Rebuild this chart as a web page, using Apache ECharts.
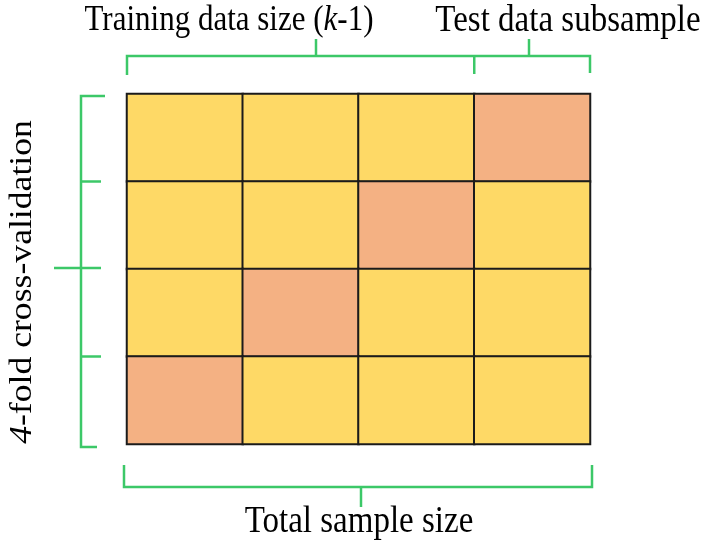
<!DOCTYPE html>
<html>
<head>
<meta charset="utf-8">
<script src="https://cdn.jsdelivr.net/npm/echarts@6/dist/echarts.min.js"></script>
<style>
  html, body { margin: 0; padding: 0; background: #fff; }
  #chart { width: 707px; height: 548px; }
</style>
</head>
<body>
<div id="chart"></div>
<script>
// subsamples (columns) and folds (rows)
const parts = ['S1', 'S2', 'S3', 'S4'];
const folds = ['Fold 1', 'Fold 2', 'Fold 3', 'Fold 4'];
// which subsample is the test set in each fold
const testPart = [3, 2, 1, 0];

const yellow = '#FED966';
const orange = '#F4B183';
const green = '#3CC868';
const serif = '"Liberation Serif", "DejaVu Serif", serif';

const cells = [];
folds.forEach((f, r) => {
  parts.forEach((p, c) => {
    cells.push([c, r, testPart[r] === c ? 1 : 0]);
  });
});

const chart = echarts.init(document.getElementById('chart'));

const gridBox = { left: 127, top: 94, width: 463, height: 350 };

chart.setOption({
  animation: false,
  grid: gridBox,
  xAxis: { type: 'category', data: parts, show: false },
  yAxis: { type: 'category', data: folds, inverse: true, show: false },
  visualMap: {
    type: 'piecewise', show: false, dimension: 2,
    pieces: [{ value: 0, color: yellow }, { value: 1, color: orange }]
  },
  series: [{
    type: 'heatmap',
    data: cells,
    itemStyle: { borderColor: '#1b1b1b', borderWidth: 2 }
  }]
});

// brackets positioned from the grid edges
const L = gridBox.left, T = gridBox.top;
const R = L + gridBox.width, B = T + gridBox.height;
const colEdge = i => L + gridBox.width * i / parts.length;
const rowEdge = i => T + gridBox.height * i / folds.length;

function seg(points) {
  return {
    type: 'polyline',
    shape: { points: points },
    style: { stroke: green, lineWidth: 2.5, fill: null }
  };
}

const topY = 56;
const leftX = 81;
const botY = 487;

const brackets = [
  // top bracket
  seg([[L, topY + 19], [L, topY], [R, topY], [R, topY + 17]]),
  seg([[colEdge(3), topY], [colEdge(3), topY + 18]]),
  seg([[316, topY], [316, topY - 17]]),
  seg([[529, topY], [529, topY - 17]]),
  // left bracket
  seg([[leftX + 24, T + 2], [leftX, T + 2], [leftX, B + 3], [leftX + 16, B + 3]]),
  seg([[leftX, rowEdge(1)], [leftX + 20, rowEdge(1)]]),
  seg([[leftX, rowEdge(3)], [leftX + 20, rowEdge(3)]]),
  seg([[leftX - 27, 268], [leftX + 20, 268]]),
  // bottom bracket
  seg([[L - 3, botY - 22], [L - 3, botY], [R + 2, botY], [R + 2, botY - 22]]),
  seg([[361, botY], [361, botY + 20]])
];

function label(x, y, text, size, opts) {
  return Object.assign({
    type: 'text',
    x: x, y: y,
    scaleY: 1.15,
    style: {
      text: text,
      textAlign: 'center',
      textVerticalAlign: 'middle',
      fill: '#000',
      fontFamily: serif,
      fontSize: size,
      rich: {
        n: { fontFamily: serif, fontSize: size, fill: '#000' },
        i: { fontFamily: serif, fontSize: size, fontStyle: 'italic', fill: '#000' }
      }
    }
  }, opts || {});
}

const texts = [
  label(229, 21, '{n|Training data size (}{i|k}{n|-1)}', 31),
  label(568, 21, '{n|Test data subsample}', 33),
  label(359, 522, '{n|Total sample size}', 33),
  label(23, 282, '{i|4}{n|-fold cross-validation}', 31, { rotation: Math.PI / 2, scaleY: 1, scaleX: 1.15 })
];

chart.setOption({ graphic: brackets.concat(texts) });
</script>
</body>
</html>
